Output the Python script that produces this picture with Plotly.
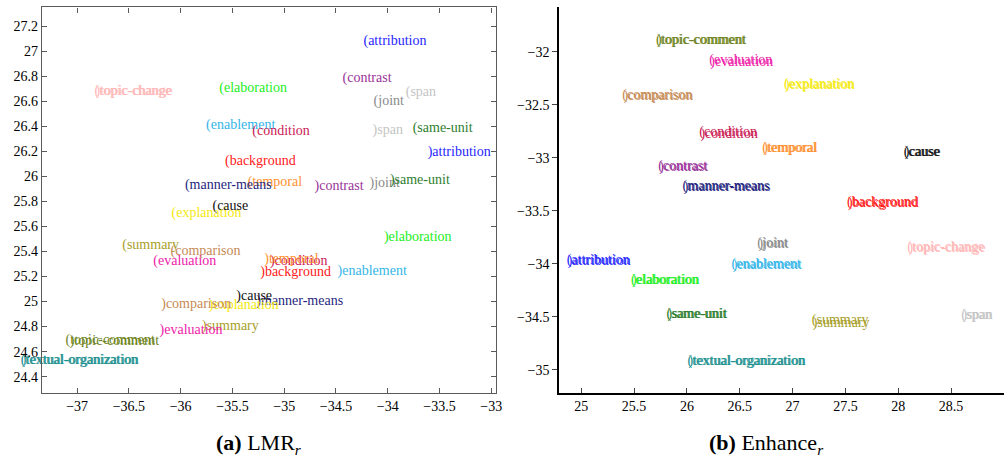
import plotly.graph_objects as go

# ---------------- data ----------------
relations = ["attribution", "contrast", "span", "joint", "same-unit", "elaboration",
             "topic-change", "enablement", "condition", "background", "temporal",
             "manner-means", "cause", "explanation", "summary", "comparison",
             "evaluation", "topic-comment", "textual-organization"]

colors = ["#2626ff", "#993399", "#c4c4c4", "#8a8a8a", "#2e7d2e", "#22ee22",
          "#ffb6b6", "#33b5e8", "#cc1a55", "#ff2020", "#ff9030",
          "#1f1f80", "#111111", "#f5ea10", "#a89e2a", "#c68a55",
          "#ee22aa", "#6f8420", "#1a9090"]

# (a) LMR_r : open-bracket "(" and close-bracket ")" embeddings
lmr_open_x = [-33.93, -34.20, -33.68, -33.99, -33.47, -35.30, -36.46, -35.42, -35.03, -35.23,
              -35.09, -35.54, -35.52, -35.75, -36.29, -35.76, -35.96, -36.68, -36.98]
lmr_open_y = [27.08, 26.78, 26.67, 26.60, 26.38, 26.70, 26.68, 26.41, 26.36, 26.12,
              25.95, 25.93, 25.76, 25.70, 25.45, 25.40, 25.32, 24.69, 24.53]
lmr_close_x = [-33.31, -34.47, -34.00, -34.03, -33.69, -33.71, -36.45, -34.15, -34.86, -34.89,
               -34.93, -34.85, -35.29, -35.39, -35.52, -35.85, -35.90, -36.64, -36.97]
lmr_close_y = [26.19, 25.92, 26.37, 25.94, 25.97, 25.51, 26.68, 25.24, 25.32, 25.23,
               25.34, 25.00, 25.04, 24.97, 24.80, 24.98, 24.77, 24.68, 24.53]

# (b) Enhance_r
enh_open_x = [25.16, 25.96, 28.74, 26.81, 26.09, 25.79, 28.45, 26.75, 26.39, 27.85,
              26.97, 26.37, 28.22, 27.25, 27.45, 25.72, 26.51, 26.13, 26.56]
enh_open_y = [-33.97, -33.08, -34.49, -33.81, -34.48, -34.16, -33.85, -34.01, -32.76, -33.42,
              -32.91, -33.27, -32.95, -32.31, -34.54, -32.41, -32.08, -31.89, -34.92]
enh_close_x = [25.17, 25.97, 28.75, 26.82, 26.10, 25.80, 28.46, 26.76, 26.40, 27.86,
               26.98, 26.38, 28.23, 27.26, 27.46, 25.73, 26.52, 26.14, 26.57]
enh_close_y = [-33.98, -33.09, -34.49, -33.82, -34.48, -34.16, -33.86, -34.02, -32.78, -33.43,
               -32.91, -33.28, -32.95, -32.32, -34.56, -32.42, -32.10, -31.89, -34.92]

lmr_xticks = [-37, -36.5, -36, -35.5, -35, -34.5, -34, -33.5, -33]
lmr_xticklabels = ["−37", "−36.5", "−36", "−35.5", "−35", "−34.5", "−34", "−33.5", "−33"]
lmr_yticks = [24.4, 24.6, 24.8, 25, 25.2, 25.4, 25.6, 25.8, 26, 26.2, 26.4, 26.6, 26.8, 27, 27.2]
lmr_yticklabels = ["24.4", "24.6", "24.8", "25", "25.2", "25.4", "25.6", "25.8", "26",
                   "26.2", "26.4", "26.6", "26.8", "27", "27.2"]
enh_xticks = [25, 25.5, 26, 26.5, 27, 27.5, 28, 28.5, 29]
enh_xticklabels = ["25", "25.5", "26", "26.5", "27", "27.5", "28", "28.5", "29"]
enh_yticks = [-32, -32.5, -33, -33.5, -34, -34.5, -35]
enh_yticklabels = ["−32", "−32.5", "−33", "−33.5", "−34", "−34.5", "−35"]

captions = ["<b>(a)</b> LMR<sub><i>r</i></sub>", "<b>(b)</b> Enhance<sub><i>r</i></sub>"]

# ---------------- figure ----------------
FONT = "Times"
fig = go.Figure()

def add_text(xs, ys, prefix, xa, ya):
    fig.add_trace(go.Scatter(
        x=xs, y=ys, mode="text",
        text=[prefix + r for r in relations],
        textposition="middle center",
        textfont=dict(family=FONT, size=14, color=colors),
        cliponaxis=False, hoverinfo="skip", showlegend=False,
        xaxis=xa, yaxis=ya))

add_text(lmr_open_x, lmr_open_y, "(", "x", "y")
add_text(lmr_close_x, lmr_close_y, ")", "x", "y")
add_text(enh_open_x, enh_open_y, "(", "x2", "y2")
add_text(enh_close_x, enh_close_y, ")", "x2", "y2")

tickfont = dict(family=FONT, size=14, color="black")

fig.update_layout(
    width=1006, height=465,
    font=dict(family=FONT),
    margin=dict(l=0, r=0, t=0, b=0, autoexpand=False),
    paper_bgcolor="white", plot_bgcolor="white",
    xaxis=dict(domain=[0.0417, 0.4935], range=[-37.34, -32.95], anchor="y",
               tickvals=lmr_xticks, ticktext=lmr_xticklabels, tickfont=tickfont,
               showgrid=False, zeroline=False, showline=True, mirror="ticks",
               linecolor="#5a5a5a", linewidth=1.2, ticks="inside", ticklen=5,
               tickcolor="#5a5a5a", automargin=False),
    yaxis=dict(domain=[0.155, 0.984], range=[24.27, 27.35], anchor="x",
               tickvals=lmr_yticks, ticktext=lmr_yticklabels, tickfont=tickfont,
               showgrid=False, zeroline=False, showline=True, mirror="ticks",
               linecolor="#5a5a5a", linewidth=1.2, ticks="inside", ticklen=5,
               tickcolor="#5a5a5a", automargin=False),
    xaxis2=dict(domain=[0.5557, 0.9985], range=[24.79, 29.005], anchor="y2",
                tickvals=enh_xticks, ticktext=enh_xticklabels, tickfont=tickfont,
                showgrid=False, zeroline=False, showline=True, mirror=False,
                linecolor="black", linewidth=1.5, ticks="inside", ticklen=5,
                tickcolor="#444", automargin=False),
    yaxis2=dict(domain=[0.155, 0.984], range=[-35.22, -31.58], anchor="x2",
                tickvals=enh_yticks, ticktext=enh_yticklabels, tickfont=tickfont,
                showgrid=False, zeroline=False, showline=True, mirror=False,
                linecolor="black", linewidth=1.5, ticks="outside", ticklen=5,
                tickcolor="#444", automargin=False),
)

for cx, txt in zip([0.257, 0.762], captions):
    fig.add_annotation(xref="paper", yref="paper", x=cx, y=0.045,
                       xanchor="center", yanchor="middle", showarrow=False,
                       text=txt, font=dict(family=FONT, size=22, color="black"))

fig.write_html("out.html")
